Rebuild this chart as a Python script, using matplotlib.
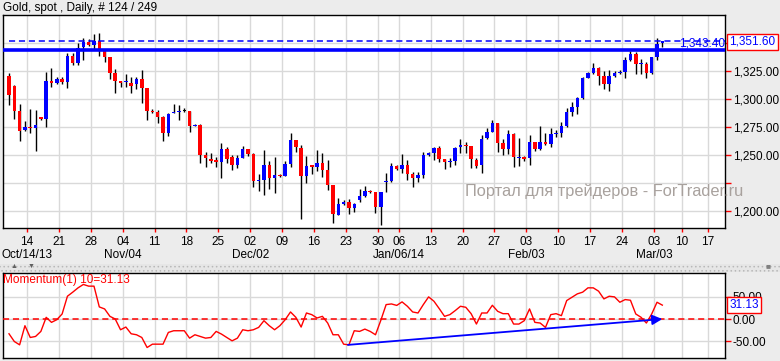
import matplotlib
matplotlib.use("Agg")
import matplotlib.pyplot as plt
from matplotlib.patches import Rectangle
import numpy as np

plt.rcParams['font.family'] = ['Liberation Sans', 'DejaVu Sans']

# --- data (one bar per trading session) ---
opens = [1320.5, 1311.6, 1289.6, 1272.3, 1275.0, 1274.4, 1284.0, 1282.4, 1316.1, 1314.3,
         1317.6, 1315.4, 1338.4, 1332.4, 1346.2, 1350.6, 1348.5, 1351.8, 1343.1, 1337.8,
         1323.5, 1316.1, 1315.0, 1314.5, 1313.1, 1317.6, 1310.1, 1289.6, 1288.7, 1283.7,
         1270.0, 1287.2, 1288.7, 1289.3, 1289.3, 1276.2, 1276.8, 1250.0, 1246.4, 1245.5,
         1244.0, 1255.1, 1248.0, 1241.1, 1247.6, 1255.1, 1250.9, 1226.8, 1227.7, 1241.1,
         1229.7, 1231.8, 1231.5, 1242.0, 1263.4, 1256.3, 1231.5, 1241.1, 1239.6, 1243.1,
         1236.6, 1223.2, 1196.4, 1206.3, 1208.3, 1203.0, 1209.8, 1213.4, 1218.0, 1217.3,
         1203.3, 1225.9, 1227.0, 1240.2, 1237.5, 1241.0, 1233.0, 1229.7, 1232.1, 1250.0,
         1252.1, 1256.0, 1246.4, 1244.0, 1245.0, 1256.9, 1259.0, 1258.0, 1245.5, 1241.1,
         1264.9, 1270.8, 1278.3, 1261.0, 1255.4, 1268.8, 1247.6, 1248.0, 1247.0, 1261.3,
         1255.4, 1261.3, 1259.6, 1268.8, 1270.0, 1275.9, 1288.7, 1293.1, 1300.6, 1319.0,
         1323.5, 1327.4, 1320.8, 1313.1, 1320.8, 1323.5, 1324.4, 1334.8, 1340.2, 1330.8,
         1331.3, 1323.5, 1337.8, 1349.7]
highs = [1323.0, 1312.5, 1295.5, 1280.6, 1291.0, 1290.0, 1284.0, 1324.4, 1327.4, 1320.0,
         1320.0, 1341.4, 1341.4, 1349.7, 1354.2, 1353.3, 1358.0, 1358.7, 1343.1, 1337.8,
         1326.5, 1316.1, 1322.3, 1319.9, 1319.9, 1325.9, 1310.1, 1290.8, 1290.2, 1284.8,
         1287.2, 1295.5, 1294.6, 1291.7, 1289.3, 1277.4, 1277.7, 1253.0, 1251.5, 1248.0,
         1261.0, 1257.4, 1250.0, 1250.0, 1258.3, 1255.1, 1251.5, 1233.0, 1254.5, 1244.6,
         1248.0, 1233.0, 1245.0, 1270.0, 1263.4, 1258.9, 1249.4, 1241.1, 1254.5, 1251.5,
         1245.5, 1223.2, 1211.3, 1209.8, 1210.4, 1207.0, 1219.6, 1222.6, 1218.7, 1217.3,
         1217.3, 1234.2, 1242.6, 1241.0, 1250.9, 1245.5, 1235.0, 1235.0, 1252.4, 1253.0,
         1257.4, 1258.0, 1246.4, 1247.0, 1256.9, 1264.0, 1261.9, 1258.0, 1247.0, 1267.9,
         1273.8, 1281.3, 1278.3, 1264.0, 1272.3, 1269.4, 1265.0, 1249.0, 1267.9, 1261.9,
         1276.2, 1270.0, 1273.8, 1272.6, 1279.7, 1291.7, 1297.6, 1302.0, 1320.0, 1324.4,
         1331.9, 1328.3, 1325.3, 1325.9, 1325.3, 1325.9, 1337.2, 1343.1, 1342.2, 1335.4,
         1333.3, 1337.8, 1354.2, 1351.6]
lows = [1294.6, 1282.0, 1262.8, 1271.7, 1270.0, 1253.8, 1281.0, 1275.3, 1311.0, 1313.1,
        1313.1, 1310.1, 1330.4, 1330.4, 1334.8, 1347.3, 1343.8, 1338.7, 1333.3, 1317.9,
        1305.6, 1311.0, 1311.0, 1305.6, 1308.7, 1296.7, 1281.3, 1287.2, 1278.3, 1262.5,
        1267.0, 1287.2, 1281.3, 1288.7, 1270.3, 1276.0, 1243.1, 1239.6, 1243.1, 1239.6,
        1229.7, 1242.6, 1236.6, 1238.7, 1247.6, 1249.1, 1221.2, 1218.1, 1214.3, 1219.6,
        1216.4, 1230.4, 1231.5, 1239.6, 1252.4, 1192.9, 1224.7, 1233.0, 1236.0, 1230.1,
        1218.7, 1189.0, 1196.4, 1205.3, 1197.3, 1199.4, 1208.3, 1212.8, 1216.4, 1198.5,
        1187.5, 1217.3, 1226.2, 1236.6, 1233.6, 1227.7, 1221.7, 1226.2, 1229.7, 1249.4,
        1245.5, 1244.0, 1237.2, 1239.0, 1241.1, 1252.1, 1252.1, 1238.1, 1238.1, 1234.2,
        1264.0, 1270.3, 1253.0, 1250.0, 1250.9, 1239.6, 1240.4, 1244.6, 1241.1, 1253.9,
        1254.5, 1258.9, 1257.4, 1265.8, 1266.4, 1275.3, 1284.8, 1286.6, 1299.7, 1318.5,
        1322.3, 1312.5, 1308.7, 1307.4, 1320.0, 1322.6, 1318.5, 1334.2, 1322.0, 1322.0,
        1319.0, 1322.0, 1334.8, 1346.7]
closes = [1303.6, 1289.6, 1271.7, 1275.0, 1274.5, 1276.8, 1282.1, 1316.1, 1314.3, 1317.6,
          1315.2, 1338.4, 1332.4, 1345.3, 1350.6, 1348.5, 1351.8, 1343.8, 1337.8, 1323.5,
          1316.1, 1314.0, 1315.5, 1311.5, 1317.6, 1310.1, 1289.6, 1288.7, 1283.7, 1270.0,
          1286.6, 1288.7, 1289.3, 1289.3, 1276.2, 1277.0, 1250.0, 1247.6, 1244.6, 1244.0,
          1255.1, 1246.7, 1241.1, 1247.0, 1255.1, 1250.9, 1227.0, 1227.7, 1241.1, 1229.7,
          1231.8, 1231.0, 1242.0, 1263.4, 1256.9, 1231.5, 1240.2, 1239.6, 1243.1, 1236.6,
          1223.2, 1197.0, 1206.3, 1208.3, 1203.0, 1206.3, 1213.4, 1217.9, 1217.0, 1203.3,
          1217.3, 1227.0, 1240.2, 1237.5, 1241.0, 1233.0, 1229.7, 1232.0, 1250.0, 1252.1,
          1256.0, 1246.4, 1244.0, 1244.6, 1256.0, 1258.9, 1258.0, 1246.2, 1240.4, 1264.0,
          1270.8, 1278.3, 1261.0, 1255.4, 1268.8, 1248.0, 1248.5, 1246.4, 1261.3, 1255.4,
          1261.3, 1259.6, 1268.8, 1270.0, 1275.9, 1288.7, 1292.6, 1300.6, 1318.5, 1323.5,
          1327.4, 1320.8, 1313.1, 1320.8, 1323.5, 1324.4, 1334.8, 1340.2, 1331.0, 1331.3,
          1323.5, 1337.2, 1349.1, 1351.6]

momentum = [-33.1, -50.4, -57.9, -15.0, -41.4, -39.1, -27.8, 3.8, -7.5, -1.5,
            11.3, 51.1, 60.2, 69.9, 77.5, 73.7, 73.7, 27.1, 22.6, 6.0,
            0.0, -24.1, -18.0, -33.1, -35.3, -41.4, -63.9, -56.4, -56.4, -56.4,
            -30.1, -26.3, -26.3, -26.3, -42.9, -35.3, -39.1, -42.9, -41.4, -27.8,
            -33.8, -41.4, -48.9, -42.9, -24.1, -26.3, -24.1, -18.8, -3.8, -15.0,
            -24.1, -15.0, -1.5, 15.8, 3.8, -18.0, 13.5, 9.8, 2.3, 6.0,
            -9.0, -35.3, -35.3, -56.4, -57.9, -26.3, -27.8, -22.6, -27.8, -35.3,
            -3.0, 32.3, 33.8, 30.5, 38.4, 28.6, 15.8, 13.5, 32.3, 49.6,
            39.9, 23.3, 6.0, 9.8, 18.8, 28.6, 26.3, 12.0, -11.3, 13.5,
            13.5, 30.8, 17.3, 12.0, 12.0, -11.3, -11.3, -3.8, 22.6, -7.5,
            -9.0, -18.8, 9.8, 12.0, 7.5, 41.4, 48.9, 56.4, 60.2, 69.9,
            69.9, 62.4, 45.1, 51.1, 49.6, 37.6, 43.6, 42.1, 11.3, 3.8,
            -9.0, 11.3, 37.6, 31.13]

day_labels = ["14", "21", "28", "04", "11", "18", "25", "02", "09", "16", "23", "30",
              "06", "13", "20", "27", "03", "10", "17", "24", "03", "10", "17"]
# bar position of each weekly tick (holiday week is short)
day_pos = list(np.arange(12) * 6 + 3.4) + list(np.arange(9) * 6 + 73.4) + [126.7, 131.6]
month_labels = {0: "Oct/14/13", 3: "Nov/04", 7: "Dec/02", 12: "Jan/06/14", 16: "Feb/03", 20: "Mar/03"}

price_ticks = [1200, 1225, 1250, 1275, 1300, 1325, 1350]
# labels hidden by the watermark / price box in the original
price_labels = ["1,200.00", "", "1,250.00", "1,275.00", "1,300.00", "1,325.00", ""]
bid_line = 1343.40
last_price = 1351.60
trend_x = [63.8, 123.0]
trend_y = [-58.0, 0.0]

BLUE = "#0000ff"
RED = "#ff0000"
BG = "#ececec"
GRID = "#d9d9d9"

W, H = 780, 361
fig = plt.figure(figsize=(W / 100, H / 100), dpi=100, facecolor=BG)

def box(x0, y0, x1, y1):
    return [x0 / W, 1 - y1 / H, (x1 - x0) / W, (y1 - y0) / H]

ax = fig.add_axes(box(3, 15, 725, 228))
ax2 = fig.add_axes(box(3, 272.5, 725, 357.5))

idx = np.arange(len(closes))
o = np.array(opens); c = np.array(closes)
hi = np.array(highs); lo = np.array(lows)

# --- price panel ---
ax.set_facecolor("white")
ax.vlines(idx, lo, hi, color="black", lw=1, zorder=3)
cols = [BLUE if cc > oo else (RED if cc < oo else "black") for oo, cc in zip(o, c)]
heights = np.maximum(np.abs(c - o), 0.9)
ax.bar(idx, heights, bottom=np.minimum(o, c), width=0.66, color=cols, zorder=4)

ax.axhline(bid_line, color=BLUE, lw=2.6, zorder=5)
ax.plot([0, 140], [last_price, last_price], color=BLUE, lw=1.1, ls=(0, (4, 2.5)), zorder=5)

ax.set_xlim(-1.13, 134.8)
ax.set_ylim(1184.8, 1375)
ax.set_xticks(day_pos)
ax.set_xticklabels(day_labels)
ax.set_yticks(price_ticks)
ax.set_yticklabels(price_labels)
ax.yaxis.tick_right()
ax.tick_params(axis="x", colors=RED, labelcolor="black", length=3, width=1, pad=2.5, labelsize=8.5)
ax.tick_params(axis="y", colors=RED, labelcolor="black", length=4, width=1, pad=1.5, labelsize=8.5)
ax.grid(True, color=GRID, lw=1, zorder=0)
ax.set_axisbelow(True)
for s in ax.spines.values():
    s.set_color("black")
    s.set_linewidth(1)

for k, lab in month_labels.items():
    ax.text(day_pos[k], -0.127, lab, transform=ax.get_xaxis_transform(),
            ha="center", va="center", fontsize=8.5)

ax.text(0.9995, bid_line + 0.6, f"{bid_line:,.2f}", transform=ax.get_yaxis_transform(),
        ha="right", va="bottom", color=BLUE, fontsize=8.5, zorder=6)
ax.text(1.006, last_price - 0.6, f"{last_price:,.2f}", transform=ax.get_yaxis_transform(),
        ha="left", va="center", color=BLUE, fontsize=8.5, zorder=10,
        bbox=dict(boxstyle="square,pad=0.18", fc="white", ec=RED, lw=1), clip_on=False)

fig.text(3 / W, 1 - 7.5 / H, "Gold, spot , Daily, # 124 / 249", ha="left", va="center", fontsize=8.5)
fig.text(465 / W, 1 - 191 / H, "Портал для трейдеров - ForTrader.ru", ha="left", va="center",
         fontsize=11.8, color="#a8a19d", zorder=20)

# --- separator strip ---
plt.rcParams['hatch.linewidth'] = 0.6
fig.patches.append(Rectangle((0, 1 - 271.5 / H), 1, 8 / H, transform=fig.transFigure,
                             facecolor="#e6e6e6", edgecolor="#b8b8b8", hatch="....", lw=0))
fig.text(14 / W, 1 - 266.5 / H, "▲", fontsize=5, color="#606060", ha="center", va="center")
fig.text(31 / W, 1 - 266.5 / H, "▼", fontsize=5, color="#606060", ha="center", va="center")
fig.text(768 / W, 1 - 266.5 / H, "■", fontsize=6, color="#808080", ha="center", va="center")

# --- momentum panel ---
ax2.set_facecolor("white")
ax2.plot(idx, momentum, color=RED, lw=1, zorder=4)
ax2.axhline(0, color=RED, lw=1.1, ls=(0, (4, 2.5)), zorder=3)
ax2.annotate("", xy=(trend_x[1], trend_y[1]), xytext=(trend_x[0], trend_y[0]),
             arrowprops=dict(arrowstyle="-|>", color=BLUE, lw=1.3, mutation_scale=15,
                             shrinkA=0, shrinkB=0), zorder=5)
ax2.set_xlim(-1.13, 134.8)
ax2.set_ylim(-86.3, 104.3)
ax2.set_xticks(day_pos)
ax2.set_xticklabels([])
ax2.tick_params(axis="x", length=0)
ax2.set_yticks([-50, 0, 50])
ax2.set_yticklabels(["-50.00", "0.00", "50.00"])
ax2.yaxis.tick_right()
ax2.tick_params(axis="y", colors=RED, labelcolor="black", length=4, width=1, pad=1.5, labelsize=8.5)
ax2.grid(True, color=GRID, lw=1, zorder=0)
ax2.set_axisbelow(True)
for s in ax2.spines.values():
    s.set_color("black")
    s.set_linewidth(1)

ax2.text(0.0, 0.985, f"Momentum(1) 10={momentum[-1]:.2f}", transform=ax2.transAxes,
         ha="left", va="top", color=RED, fontsize=8.5)
ax2.text(1.006, momentum[-1], f"{momentum[-1]:.2f}", transform=ax2.get_yaxis_transform(),
         ha="left", va="center", color=BLUE, fontsize=8.5, zorder=10, clip_on=False,
         bbox=dict(boxstyle="square,pad=0.18", fc="white", ec=RED, lw=1))

fig.savefig("out.png", dpi=100, facecolor=BG)
